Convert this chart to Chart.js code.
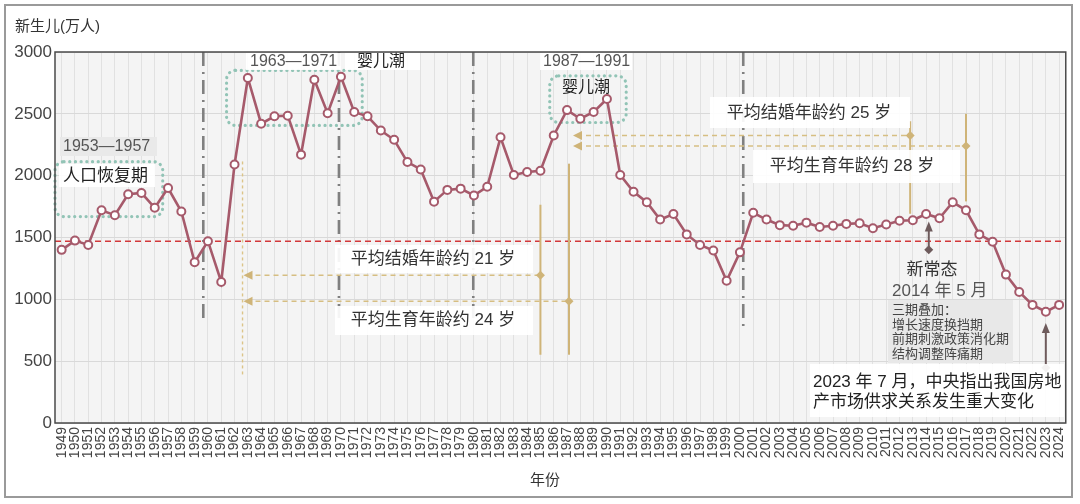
<!DOCTYPE html>
<html lang="zh">
<head>
<meta charset="utf-8">
<script src="https://cdn.jsdelivr.net/npm/chart.js@4.4.1/dist/chart.umd.min.js"></script>
<style>
  html, body { margin: 0; padding: 0; background: #fff; }
  #wrap { width: 1080px; height: 504px; position: relative; }
</style>
</head>
<body>
<div id="wrap"><canvas id="births" width="1080" height="504"></canvas></div>
<script>
// Years on the x axis
const years = [
  "1949", "1950", "1951", "1952", "1953", "1954", "1955", "1956", "1957", "1958",
  "1959", "1960", "1961", "1962", "1963", "1964", "1965", "1966", "1967", "1968",
  "1969", "1970", "1971", "1972", "1973", "1974", "1975", "1976", "1977", "1978",
  "1979", "1980", "1981", "1982", "1983", "1984", "1985", "1986", "1987", "1988",
  "1989", "1990", "1991", "1992", "1993", "1994", "1995", "1996", "1997", "1998",
  "1999", "2000", "2001", "2002", "2003", "2004", "2005", "2006", "2007", "2008",
  "2009", "2010", "2011", "2012", "2013", "2014", "2015", "2016", "2017", "2018",
  "2019", "2020", "2021", "2022", "2023", "2024",
];

// Newborns per year (10k people)
const births = [
  1400, 1475, 1440, 1720, 1680, 1850, 1860, 1740, 1900, 1710,
  1300, 1470, 1140, 2090, 2790, 2420, 2480, 2485, 2170, 2775,
  2505, 2800, 2515, 2480, 2365, 2290, 2110, 2050, 1790, 1885,
  1895, 1840, 1910, 2310, 2005, 2030, 2040, 2325, 2530, 2460,
  2515, 2620, 2005, 1870, 1785, 1645, 1690, 1525, 1440, 1395,
  1150, 1380, 1700, 1645, 1600, 1595, 1620, 1585, 1595, 1610,
  1615, 1575, 1605, 1635, 1640, 1690, 1655, 1785, 1720, 1525,
  1465, 1200, 1060, 955, 900, 955,
];

// y axis ticks
const yTicks = [0, 500, 1000, 1500, 2000, 2500, 3000];

// red dashed reference level
const referenceLevel = 1470;

const FONT = '"Liberation Sans", "Noto Sans CJK SC", sans-serif';
const LINE_COLOR = "#a65a6b";
const TAN = "#cfb478";

// helpers to go from (year, value) to pixels
const px = (chart, yr) => chart.scales.x.getPixelForValue(yr - 1949);
const py = (chart, v) => chart.scales.y.getPixelForValue(v);

function seg(ctx, x1, y1, x2, y2, color, width, dash) {
  ctx.save();
  ctx.strokeStyle = color;
  ctx.lineWidth = width;
  ctx.setLineDash(dash || []);
  ctx.beginPath();
  ctx.moveTo(x1, y1);
  ctx.lineTo(x2, y2);
  ctx.stroke();
  ctx.restore();
}

function tri(ctx, x, y, dir, color, w, h) {
  ctx.save();
  ctx.fillStyle = color;
  ctx.beginPath();
  if (dir === "left") {
    ctx.moveTo(x, y);
    ctx.lineTo(x + w, y - h / 2);
    ctx.lineTo(x + w, y + h / 2);
  } else {
    ctx.moveTo(x, y);
    ctx.lineTo(x - h / 2, y + w);
    ctx.lineTo(x + h / 2, y + w);
  }
  ctx.closePath();
  ctx.fill();
  ctx.restore();
}

function diamond(ctx, x, y, r, color) {
  ctx.save();
  ctx.fillStyle = color;
  ctx.beginPath();
  ctx.moveTo(x, y - r);
  ctx.lineTo(x + r, y);
  ctx.lineTo(x, y + r);
  ctx.lineTo(x - r, y);
  ctx.closePath();
  ctx.fill();
  ctx.restore();
}

function dottedBox(ctx, x1, y1, x2, y2) {
  const r = 9;
  ctx.save();
  ctx.strokeStyle = "#92c4b6";
  ctx.lineWidth = 3.2;
  ctx.lineCap = "round";
  ctx.setLineDash([0.1, 5.6]);
  ctx.beginPath();
  ctx.moveTo(x1 + r, y1);
  ctx.lineTo(x2 - r, y1);
  ctx.arcTo(x2, y1, x2, y1 + r, r);
  ctx.lineTo(x2, y2 - r);
  ctx.arcTo(x2, y2, x2 - r, y2, r);
  ctx.lineTo(x1 + r, y2);
  ctx.arcTo(x1, y2, x1, y2 - r, r);
  ctx.lineTo(x1, y1 + r);
  ctx.arcTo(x1, y1, x1 + r, y1, r);
  ctx.stroke();
  ctx.restore();
}

function box(ctx, x1, y1, x2, y2, fill) {
  ctx.save();
  ctx.fillStyle = fill;
  ctx.fillRect(x1, y1, x2 - x1, y2 - y1);
  ctx.restore();
}

function text(ctx, str, x, y, size, color, align) {
  ctx.save();
  ctx.font = size + "px " + FONT;
  ctx.fillStyle = color;
  ctx.textAlign = align || "left";
  ctx.textBaseline = "middle";
  ctx.fillText(str, x, y);
  ctx.restore();
}

const decorations = {
  id: "decorations",
  beforeDraw(chart) {
    const { ctx, chartArea: a } = chart;
    ctx.save();
    ctx.fillStyle = "#fff";
    ctx.fillRect(0, 0, chart.width, chart.height);
    ctx.fillStyle = "#f4f4f4";
    ctx.fillRect(a.left, a.top, a.right - a.left, a.bottom - a.top);
    ctx.restore();
  },
  beforeDatasetsDraw(chart) {
    const ctx = chart.ctx;
    const a = chart.chartArea;
    const X = (yr) => px(chart, yr);
    const Y = (v) => py(chart, v);

    // period separators (dash-dot)
    [[1959.65, 800], [1969.85, 800], [1979.95, 800], [2000.25, 760]].forEach(([yr, bottom]) => {
      seg(ctx, X(yr), a.top, X(yr), Y(bottom), "#808080", 2.6, [14, 6, 2, 6]);
    });

    // reference level
    seg(ctx, a.left, Y(referenceLevel), a.right, Y(referenceLevel), "#d2383a", 1.6, [6, 4]);

    // 1960s-80s ages
    seg(ctx, X(1962.6), Y(2115), X(1962.6), Y(370), "#dcc488", 1.4, [3, 3]);
    seg(ctx, X(1962.6) + 4, Y(1195), X(1985), Y(1195), "#d6be82", 1.4, [5, 4]);
    seg(ctx, X(1962.6) + 4, Y(985), X(1987.15), Y(985), "#d6be82", 1.4, [5, 4]);
    tri(ctx, X(1962.6) + 1, Y(1195), "left", TAN, 9, 9);
    tri(ctx, X(1962.6) + 1, Y(985), "left", TAN, 9, 9);
    seg(ctx, X(1985), Y(1765), X(1985), Y(552), TAN, 2);
    seg(ctx, X(1987.15), Y(2097), X(1987.15), Y(552), TAN, 2);
    diamond(ctx, X(1985), Y(1195), 4.5, TAN);
    diamond(ctx, X(1987.15), Y(985), 4.5, TAN);

    // 1980s-2010s ages
    seg(ctx, X(1987.45) + 4, Y(2325), X(2012.8), Y(2325), "#d6be82", 1.4, [5, 4]);
    seg(ctx, X(1987.45) + 4, Y(2240), X(2017), Y(2240), "#d6be82", 1.4, [5, 4]);
    tri(ctx, X(1987.45), Y(2325), "left", TAN, 9, 9);
    tri(ctx, X(1987.45), Y(2240), "left", TAN, 9, 9);
    seg(ctx, X(2012.8), Y(2440), X(2012.8), Y(1692), TAN, 2);
    seg(ctx, X(2017), Y(2500), X(2017), Y(1792), TAN, 2);
    diamond(ctx, X(2012.8), Y(2325), 4.5, TAN);
    diamond(ctx, X(2017), Y(2240), 4.5, TAN);

    // baby boom / recovery boxes
    dottedBox(ctx, a.left, Y(2113), X(1956.6), Y(1669));
    dottedBox(ctx, X(1961.4), Y(2851), X(1971.6), Y(2406));
    dottedBox(ctx, X(1985.7), Y(2807), X(1991.45), Y(2430));

    // dark arrows
    const dark = "#6e5b5c";
    seg(ctx, X(2014.2), Y(1401), X(2014.2), Y(1560), dark, 2);
    tri(ctx, X(2014.2), Y(1630), "up", dark, 10, 8);
    diamond(ctx, X(2014.2), Y(1401), 4.5, dark);
    seg(ctx, X(2023), Y(447), X(2023), Y(740), dark, 2);
    tri(ctx, X(2023), Y(809), "up", dark, 10, 8);
    diamond(ctx, X(2023), Y(447), 4.5, dark);
  },
  afterDatasetsDraw(chart) {
    const ctx = chart.ctx;
    const a = chart.chartArea;
    const white = "rgba(255,255,255,0.92)";

    // period labels
    box(ctx, 60, 137, 157, 156, "#e9e9e9");
    text(ctx, "1953\u20141957", 63, 147, 16, "#555");
    box(ctx, 59, 164, 155, 187, white);
    text(ctx, "人口恢复期", 63, 176, 17, "#222");

    box(ctx, 246, 53, 341, 70, white);
    text(ctx, "1963\u20141971", 250, 62, 16, "#555");
    box(ctx, 345, 53, 420, 70, white);
    text(ctx, "婴儿潮", 357, 62, 16, "#222");

    box(ctx, 540, 53, 632, 70, white);
    text(ctx, "1987\u20141991", 543, 62, 16, "#555");
    text(ctx, "婴儿潮", 562, 88, 16, "#222");

    // age labels
    box(ctx, 335, 245, 533, 273, white);
    text(ctx, "平均结婚年龄约 21 岁", 433, 259, 17, "#333", "center");
    box(ctx, 335, 306, 533, 335, white);
    text(ctx, "平均生育年龄约 24 岁", 433, 320, 17, "#333", "center");
    box(ctx, 710, 97, 910, 128, white);
    text(ctx, "平均结婚年龄约 25 岁", 809, 113, 17, "#333", "center");
    box(ctx, 753, 150, 960, 183, white);
    text(ctx, "平均生育年龄约 28 岁", 852, 166, 17, "#333", "center");

    // new normal
    text(ctx, "新常态", 932, 270, 17, "#333", "center");
    text(ctx, "2014 年 5 月", 892, 291.5, 17, "#555");
    box(ctx, 888, 300, 1013, 363, "#e8e8e8");
    text(ctx, "三期叠加：", 892, 310.5, 13, "#444");
    text(ctx, "增长速度换挡期", 892, 325, 13, "#444");
    text(ctx, "前期刺激政策消化期", 892, 339.5, 13, "#444");
    text(ctx, "结构调整阵痛期", 892, 354, 13, "#444");

    box(ctx, 810, 364, 1064, 417, white);
    text(ctx, "2023 年 7 月，中央指出我国房地", 813, 382, 17, "#222");
    text(ctx, "产市场供求关系发生重大变化", 813, 402, 17, "#222");

    // plot border
    ctx.save();
    ctx.strokeStyle = "#4a4a4a";
    ctx.lineWidth = 1.5;
    ctx.strokeRect(a.left, a.top, a.right - a.left, a.bottom - a.top);
    ctx.restore();
  },
  afterDraw(chart) {
    const ctx = chart.ctx;
    text(ctx, "新生儿(万人)", 15, 27, 15, "#333");
    text(ctx, "年份", 545, 481, 15, "#333", "center");
    ctx.save();
    ctx.strokeStyle = "#9a9a9a";
    ctx.lineWidth = 2;
    ctx.strokeRect(5, 5, 1067, 492);
    ctx.restore();
  },
};

const birthChart = new Chart(document.getElementById("births"), {
  type: "line",
  plugins: [decorations],
  data: {
    labels: years,
    datasets: [
      {
        data: births,
        borderColor: LINE_COLOR,
        borderWidth: 2.6,
        pointRadius: 4,
        pointBorderWidth: 2,
        pointBackgroundColor: "#fff",
        pointBorderColor: LINE_COLOR,
        tension: 0,
      },
    ],
  },
  options: {
    responsive: false,
    animation: false,
    layout: { padding: { top: 52, right: 13, left: 0, bottom: 0 } },
    plugins: {
      legend: { display: false },
      tooltip: { enabled: false },
    },
    scales: {
      x: {
        type: "category",
        offset: true,
        border: { display: false },
        grid: { color: "#e1e1e1", drawTicks: false },
        ticks: {
          autoSkip: false,
          maxRotation: 90,
          minRotation: 90,
          padding: 4,
          color: "#444",
          font: { size: 14, family: FONT },
        },
        afterFit: (s) => { s.height = 81; },
      },
      y: {
        min: 0,
        max: 3000,
        afterBuildTicks: (s) => { s.ticks = yTicks.map((v) => ({ value: v })); },
        border: { display: false },
        grid: { color: "#d9d9d9", drawTicks: false },
        ticks: {
          padding: 3,
          color: "#444",
          font: { size: 17, family: FONT },
          callback: (v) => String(v),
        },
        afterFit: (s) => { s.width = 55; },
      },
    },
  },
});
</script>
</body>
</html>
